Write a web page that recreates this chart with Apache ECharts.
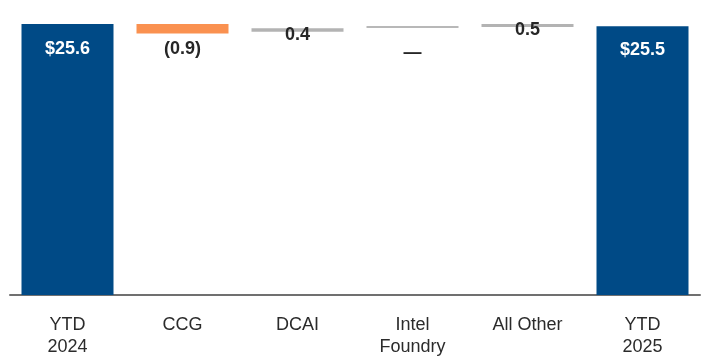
<!DOCTYPE html>
<html>
<head>
<meta charset="utf-8">
<script src="https://cdn.jsdelivr.net/npm/echarts@6/dist/echarts.min.js"></script>
<style>
html,body{margin:0;padding:0;background:#fff;}
#chart{width:710px;height:364px;}
</style>
</head>
<body>
<div id="chart"></div>
<script>
// Categories and values
const categories = ['YTD\n2024', 'CCG', 'DCAI', 'Intel\nFoundry', 'All Other', 'YTD\n2025'];
const valueLabels = ['$25.6', '(0.9)', '0.4', '\u2014', '0.5', '$25.5'];
// invisible base of each floating bar
const baseValues = [0, 24.7, 24.88, 25.22, 25.32, 0];
// visible bar heights
const barValues = [25.6, 0.9, 0.32, 0.19, 0.28, 25.4];
const barColors = ['#004a86', '#fa9150', '#b3b3b3', '#b8b8b8', '#b3b3b3', '#004a86'];

const FONT = 'Liberation Sans, Arial, sans-serif';

const labelCfg = [
  {position: 'insideTop', distance: 16, color: '#ffffff'},
  {position: 'bottom', distance: 6, color: '#262626'},
  {position: 'inside', offset: [0, 5], color: '#262626'},
  {position: 'bottom', distance: 16, color: '#262626'},
  {position: 'inside', offset: [0, 5], color: '#262626'},
  {position: 'insideTop', distance: 15, color: '#ffffff'}
];

const chart = echarts.init(document.getElementById('chart'), null, {renderer: 'canvas'});
chart.setOption({
  animation: false,
  grid: {left: 10, right: 10, top: 0, bottom: 69, containLabel: false},
  xAxis: {
    type: 'category',
    data: categories,
    axisLine: {lineStyle: {color: '#707070', width: 2}},
    axisTick: {show: false},
    axisLabel: {
      fontFamily: FONT, fontSize: 18, color: '#2b2b2b',
      lineHeight: 22, margin: 19, interval: 0
    }
  },
  yAxis: {
    type: 'value', min: 0, max: 27.87,
    show: false,
    splitLine: {show: false}
  },
  series: [
    {
      type: 'bar', stack: 'w', barWidth: 92,
      data: baseValues,
      itemStyle: {color: 'transparent'},
      silent: true
    },
    {
      type: 'bar', stack: 'w', barWidth: 92,
      data: barValues.map((v, i) => ({
        value: v,
        itemStyle: {color: barColors[i]},
        label: Object.assign({
          show: true,
          formatter: valueLabels[i],
          fontFamily: FONT, fontSize: 18, fontWeight: 'bold'
        }, labelCfg[i])
      }))
    }
  ]
});
</script>
</body>
</html>
